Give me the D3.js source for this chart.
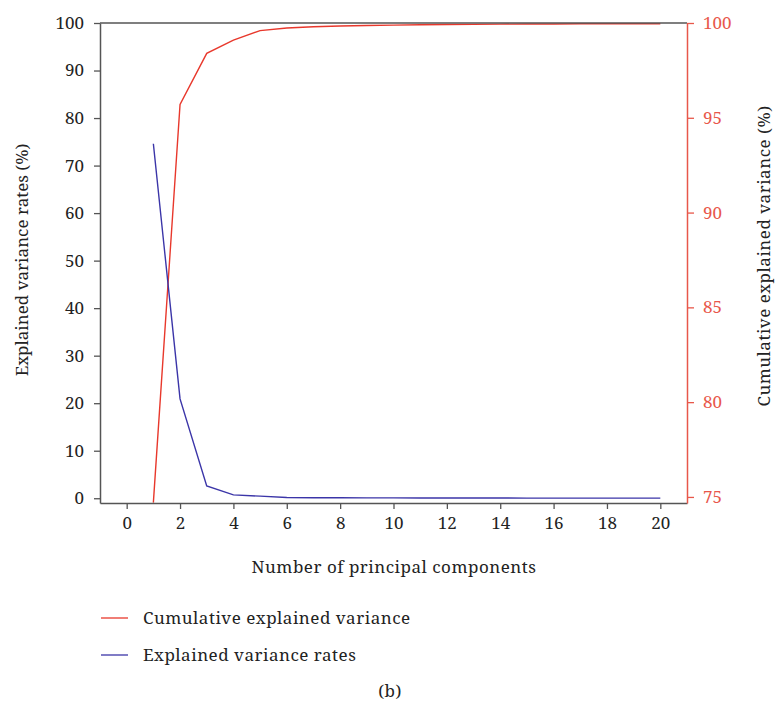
<!DOCTYPE html>
<html><head><meta charset="utf-8">
<script src="https://cdn.jsdelivr.net/npm/d3@7"></script>
<style>body{margin:0;background:#fff}svg{display:block}</style>
</head><body>
<script>
const components = d3.range(1, 21);
const explained = [74.6, 20.9, 2.6, 0.7, 0.45, 0.15, 0.12, 0.1, 0.08, 0.07, 0.06, 0.05, 0.04, 0.04, 0.03, 0.03, 0.02, 0.02, 0.02, 0.02];
const cumulative = [74.7, 95.7, 98.4, 99.1, 99.6, 99.74, 99.8, 99.84, 99.87, 99.89, 99.91, 99.92, 99.93, 99.94, 99.95, 99.95, 99.96, 99.96, 99.96, 99.96];
const xTicks = d3.range(0, 21, 2);
const yLeftTicks = d3.range(0, 101, 10);
const yRightTicks = [75, 80, 85, 90, 95, 100];
const legendLabels = ["Cumulative explained variance", "Explained variance rates"];

const W = 777, H = 705;
const L = 100, R = 687, T = 23, B = 503;
const RED = "#e8382c", REDAX = "#e8574a", BLUE = "#3b35a8", AX = "#555";
const FONT = "'Noto Serif', 'Liberation Serif', serif";

const svg = d3.select("body").append("svg").attr("width", W).attr("height", H)
  .style("font-family", FONT);

const x = d3.scaleLinear().domain([-1, 21]).range([L, R]);
const yL = d3.scaleLinear().domain([-1, 100]).range([B, T]);
const yR = d3.scaleLinear().domain([74.68, 100]).range([B, T]);

svg.append("defs").append("clipPath").attr("id", "c")
  .append("rect").attr("x", L).attr("y", T).attr("width", R - L).attr("height", B - T);

// lines
const g = svg.append("g").attr("clip-path", "url(#c)");
g.append("path").datum(components.map((c, i) => [c, cumulative[i]]))
  .attr("fill", "none").attr("stroke", RED).attr("stroke-width", 1.4)
  .attr("d", d3.line().x(d => x(d[0])).y(d => yR(d[1])));
g.append("path").datum(components.map((c, i) => [c, explained[i]]))
  .attr("fill", "none").attr("stroke", BLUE).attr("stroke-width", 1.4)
  .attr("d", d3.line().x(d => x(d[0])).y(d => yL(d[1])));

// top frame
svg.append("line").attr("x1", L).attr("x2", R).attr("y1", T).attr("y2", T)
  .attr("stroke", AX).attr("stroke-width", 1.5);

function style(sel, color, size) {
  sel.select(".domain").attr("stroke", color).attr("stroke-width", 1.5);
  sel.selectAll(".tick line").attr("stroke", color).attr("stroke-width", 1.3);
  sel.selectAll(".tick text").attr("fill", color === AX ? "#222" : color)
    .style("font-size", size + "px").style("font-family", FONT);
}

const xa = svg.append("g").attr("transform", `translate(0,${B})`)
  .call(d3.axisBottom(x).tickValues(xTicks).tickSize(6).tickSizeOuter(0).tickPadding(8));
style(xa, AX, 17);

const yla = svg.append("g").attr("transform", `translate(${L},0)`)
  .call(d3.axisLeft(yL).tickValues(yLeftTicks).tickSize(6).tickSizeOuter(0).tickPadding(10));
style(yla, AX, 17);

const yra = svg.append("g").attr("transform", `translate(${R},0)`)
  .call(d3.axisRight(yR).tickValues(yRightTicks).tickSize(7).tickSizeOuter(0).tickPadding(9));
style(yra, REDAX, 17);

function txt(sel, ls) {
  return sel.style("font-size", "17px").style("letter-spacing", (ls == null ? 0.5 : ls) + "px").attr("fill", "#222");
}

// titles
txt(svg.append("text").attr("x", 394).attr("y", 573).attr("text-anchor", "middle"))
  .text("Number of principal components");
txt(svg.append("text").attr("transform", "translate(28,260) rotate(-90)").attr("text-anchor", "middle"), 0)
  .text("Explained variance rates (%)");
txt(svg.append("text").attr("transform", "translate(770,256) rotate(-90)").attr("text-anchor", "middle"))
  .text("Cumulative explained variance (%)");

// legend
const legColors = [RED, BLUE];
legendLabels.forEach((lab, i) => {
  const yy = 618 + i * 37;
  svg.append("line").attr("x1", 101).attr("x2", 128).attr("y1", yy).attr("y2", yy)
    .attr("stroke", legColors[i]).attr("stroke-width", 1.3);
  txt(svg.append("text").attr("x", 143).attr("y", yy + 6)).text(lab);
});
txt(svg.append("text").attr("x", 390).attr("y", 697).attr("text-anchor", "middle")).text("(b)");
</script>
</body></html>
